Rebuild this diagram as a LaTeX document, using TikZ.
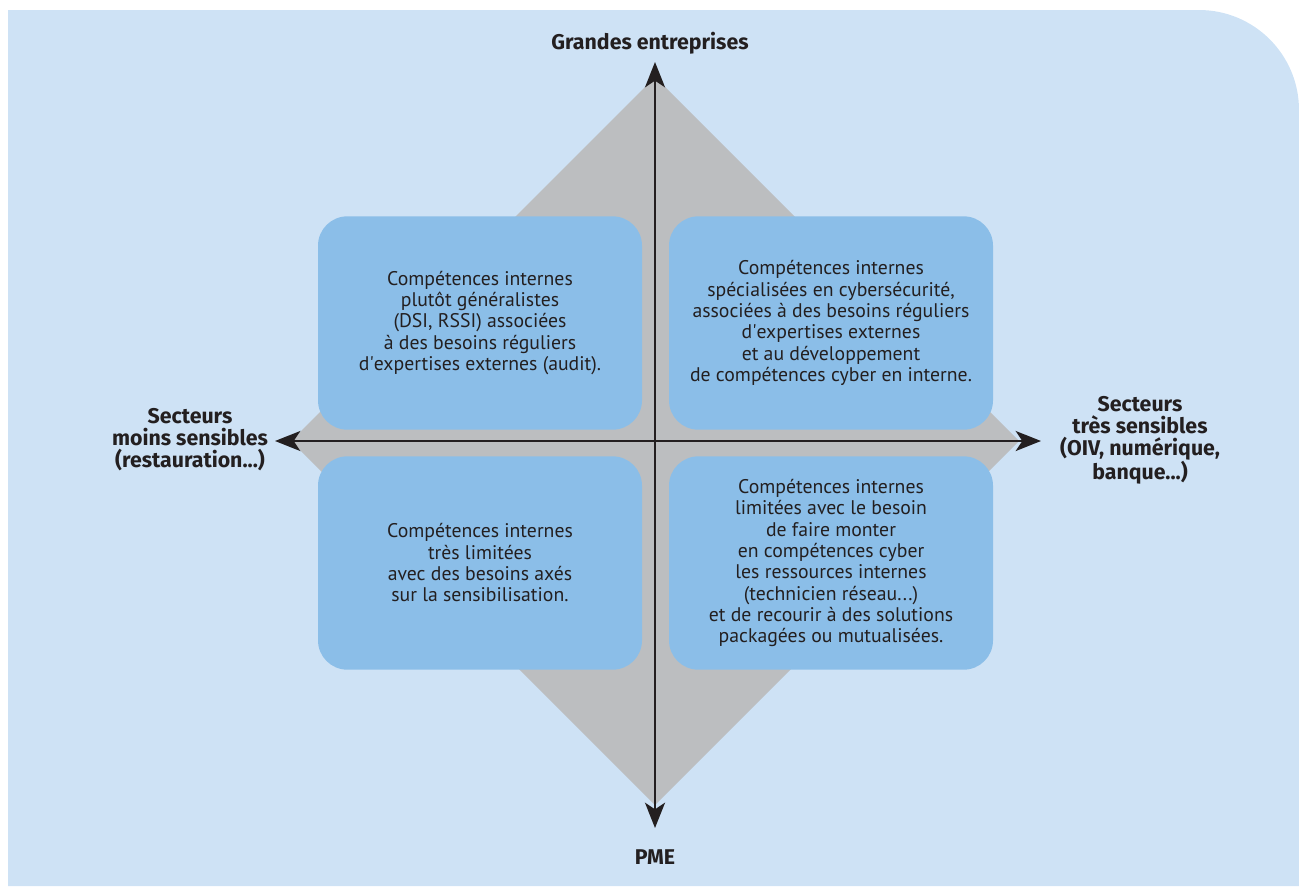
\documentclass[tikz,border=0pt]{standalone}
\usepackage{fontspec}
\setmainfont{PT Sans}
\newfontfamily\polefont{Fira Sans}
\usetikzlibrary{arrows.meta}

\definecolor{fondbleu}{HTML}{CEE2F5}
\definecolor{losange}{HTML}{BCBEC0}
\definecolor{cadre}{HTML}{8BBEE8}
\definecolor{encre}{HTML}{231F20}

\tikzset{
  quadrant/.style={fill=cadre, rounded corners=22pt, minimum width=243pt,
    minimum height=160pt, align=center, text=encre, font=\fontsize{14.8}{16}\selectfont},
  pole/.style={align=center, text=encre, font=\polefont\bfseries\fontsize{16}{16.5}\selectfont},
  axe/.style={line width=1.8pt, draw=encre,
    {Stealth[length=19pt, width=15pt, inset=5pt]}-{Stealth[length=19pt, width=15pt, inset=5pt]}}
}

\begin{document}
\begin{tikzpicture}[x=0.75pt, y=-0.75pt]
    \useasboundingbox (0,0) rectangle (1299,886);
    % fond
    \fill[fondbleu] (8,886) -- (8,10) -- (1199,10)
      arc[start angle=-90, end angle=0, radius=100] -- (1299,886) -- cycle;
    % losange
    \fill[losange] (655,77) -- (1019,441) -- (655,805) -- (291,441) -- cycle;

    % quadrants
    \node[quadrant] (hg) at (480,323) {Compétences internes\\
      plutôt généralistes\\ (DSI, RSSI) associées\\ à des besoins réguliers\\
      d\textquotesingle expertises externes (audit).};
    \node[quadrant] (hd) at (831,323) {Compétences internes\\
      spécialisées en cybersécurité,\\ associées à des besoins réguliers\\
      d\textquotesingle expertises externes\\ et au développement\\ de compétences cyber en interne.};
    \node[quadrant] (bg) at (480,563) {Compétences internes\\ très limitées\\
      avec des besoins axés\\ sur la sensibilisation.};
    \node[quadrant] (bd) at (831,563) {Compétences internes\\
      limitées avec le besoin\\ de faire monter\\ en compétences cyber\\
      les ressources internes\\ (technicien réseau...)\\
      et de recourir à des solutions\\ packagées ou mutualisées.};

    % poles
    \node[pole] (grandes) at (650,43) {Grandes entreprises};
    \node[pole] (pme) at (655,857) {PME};
    \node[pole] (moins) at (190,440) {Secteurs\\ moins sensibles\\ (restauration...)};
    \node[pole] (tres) at (1140,440) {Secteurs\\ très sensibles\\ (OIV, numérique,\\ banque...)};

    % axes
    \coordinate (haut) at (655,62);
    \coordinate (bas) at (655,828);
    \coordinate (gauche) at (275,441);
    \coordinate (droite) at (1041,441);
    \draw[axe] (bas) -- (haut);
    \draw[axe] (gauche) -- (droite);
  \end{tikzpicture}
\end{document}
